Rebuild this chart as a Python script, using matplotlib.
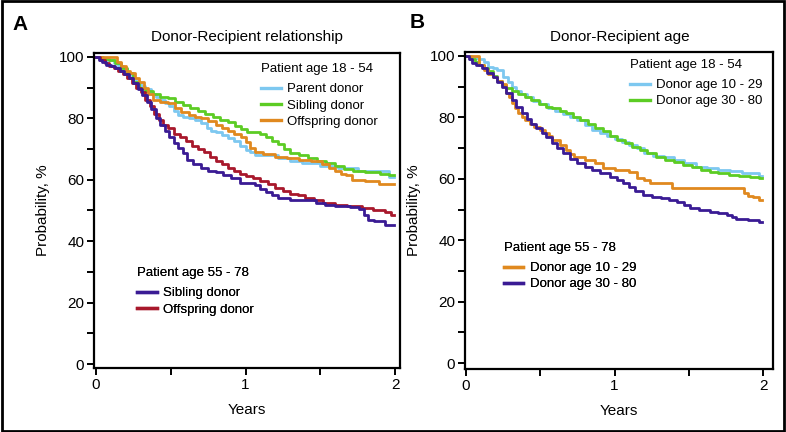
import matplotlib
matplotlib.use("Agg")
import matplotlib.pyplot as plt
from matplotlib.lines import Line2D
from matplotlib.patches import Rectangle
from matplotlib import font_manager

# ---------------- data ----------------
# Panel A: Donor-Recipient relationship (patient age 18-54)
a_parent_t = [0, 0.04, 0.08, 0.12, 0.15, 0.18, 0.21, 0.24, 0.27, 0.30, 0.33, 0.37, 0.40, 0.43, 0.46, 0.49, 0.52, 0.55, 0.58, 0.62,
              0.66, 0.70, 0.74, 0.77, 0.80, 0.84, 0.88, 0.92, 0.96, 1.00, 1.03, 1.06, 1.15, 1.22, 1.30, 1.38, 1.50, 1.62, 1.75, 1.96, 1.99]
a_parent_s = [100, 99.5, 99, 98, 97, 96, 94.5, 93, 91.5, 90.5, 89.5, 88, 87, 86, 85, 84, 82.5, 81, 80.5, 80,
              79.5, 78.5, 77, 76, 75.5, 74.5, 73.6, 72.5, 71, 69.7, 69, 68, 68, 67, 66, 65.5, 64.5, 64, 63, 61, 61]

a_sib_young_t = [0, 0.05, 0.09, 0.13, 0.17, 0.21, 0.25, 0.29, 0.33, 0.38, 0.43, 0.48, 0.53, 0.58, 0.63, 0.68, 0.73, 0.78, 0.83, 0.88,
                 0.93, 0.97, 1.01, 1.10, 1.14, 1.18, 1.22, 1.26, 1.30, 1.36, 1.42, 1.48, 1.54, 1.60, 1.66, 1.72, 1.80, 1.90, 1.96, 1.99]
a_sib_young_s = [100, 99.5, 99, 98, 96.5, 94.8, 92, 90, 89, 88, 87, 86.5, 85.5, 84.5, 83.5, 82.5, 81.5, 80.5, 79.5, 78.8,
                 77.5, 76.5, 75.5, 75, 74, 72.5, 71.5, 70, 68.7, 68, 67, 66, 65.5, 64.5, 63.5, 63, 62.5, 62, 61.5, 61.5]

a_off_young_t = [0, 0.14, 0.17, 0.20, 0.23, 0.26, 0.29, 0.32, 0.35, 0.38, 0.43, 0.48, 0.53, 0.57, 0.62, 0.66, 0.70, 0.75, 0.80, 0.84,
                 0.88, 0.92, 0.97, 1.00, 1.03, 1.06, 1.12, 1.20, 1.28, 1.36, 1.44, 1.51, 1.56, 1.60, 1.64, 1.67, 1.71, 1.80, 1.89, 1.99]
a_off_young_s = [100, 98.5, 97, 95.5, 94.8, 93, 92, 90, 88, 86, 85.5, 85, 83.5, 82, 81, 80.5, 80, 79, 78, 77,
                 76, 75, 74, 72.3, 70.5, 69, 68.5, 67.5, 67, 66.5, 66, 65, 64, 63, 62, 61.5, 60, 59.5, 58.6, 58.6]

# Panel A: patient age 55-78
a_sib_old_t = [0, 0.02, 0.04, 0.07, 0.10, 0.13, 0.16, 0.19, 0.22, 0.25, 0.28, 0.31, 0.34, 0.37, 0.40, 0.43, 0.46, 0.49, 0.52, 0.55,
               0.58, 0.61, 0.65, 0.70, 0.75, 0.80, 0.85, 0.90, 0.96, 1.01, 1.06, 1.10, 1.14, 1.18, 1.22, 1.30, 1.40, 1.47, 1.53, 1.60,
               1.70, 1.76, 1.79, 1.82, 1.86, 1.93, 1.99]
a_sib_old_s = [100, 99, 98.5, 97.5, 97, 96.5, 95.5, 94.5, 93, 91.5, 89.5, 87.5, 85.5, 83, 80, 78, 76, 74, 72, 70.5,
               68.7, 66.5, 65, 64, 63, 62.5, 61.5, 60.5, 59, 58.8, 58.3, 57, 56, 55, 54, 53.5, 53.4, 52.5, 51.8, 51.5,
               51, 50.5, 48.5, 47, 46.5, 45.3, 45.3]

a_off_old_t = [0, 0.03, 0.06, 0.09, 0.12, 0.15, 0.18, 0.21, 0.24, 0.27, 0.30, 0.33, 0.36, 0.39, 0.42, 0.45, 0.48, 0.52, 0.56, 0.60,
               0.64, 0.68, 0.72, 0.76, 0.80, 0.84, 0.88, 0.92, 0.96, 1.00, 1.05, 1.10, 1.15, 1.20, 1.25, 1.30, 1.35, 1.40, 1.46, 1.52,
               1.60, 1.68, 1.78, 1.85, 1.93, 1.97, 1.99]
a_off_old_s = [100, 99, 98, 97, 96.5, 95.5, 94.5, 93, 91.5, 90, 88.5, 86, 84, 81.5, 79.5, 78, 77, 75, 74, 72.5,
               71, 70, 69, 67.5, 66, 65, 64, 63, 62, 61.2, 60.5, 59.5, 58.5, 57.3, 56.5, 55.5, 55, 54, 53.4, 52.5,
               51.8, 51.5, 50.8, 50.2, 49.5, 48.5, 48.5]

# Panel B: Donor-Recipient age (patient age 18-54)
b_young10_t = [0, 0.04, 0.08, 0.12, 0.15, 0.18, 0.21, 0.25, 0.28, 0.31, 0.34, 0.37, 0.41, 0.45, 0.50, 0.55, 0.60, 0.65, 0.70, 0.75,
               0.80, 0.85, 0.90, 0.95, 1.00, 1.05, 1.10, 1.15, 1.20, 1.26, 1.33, 1.40, 1.47, 1.55, 1.62, 1.70, 1.78, 1.86, 1.97, 1.99]
b_young10_s = [100, 99.5, 99, 98, 96.5, 96, 95.4, 93, 91.5, 90, 88.5, 87.5, 86.5, 85.5, 84.5, 83, 82, 81, 80, 79,
               77.5, 76, 75, 74, 73, 72, 71, 70, 68.5, 67.5, 67, 66, 65, 64, 63.5, 63, 62.5, 62, 61, 61]

b_young30_t = [0, 0.03, 0.06, 0.09, 0.12, 0.15, 0.18, 0.21, 0.24, 0.27, 0.31, 0.35, 0.40, 0.44, 0.49, 0.54, 0.58, 0.63, 0.67, 0.72,
               0.77, 0.82, 0.87, 0.92, 0.97, 1.02, 1.07, 1.12, 1.17, 1.22, 1.28, 1.34, 1.40, 1.46, 1.52, 1.58, 1.64, 1.70, 1.77, 1.84,
               1.91, 1.97, 1.99]
b_young30_s = [100, 99, 98, 97, 96, 95, 93.5, 92, 90.5, 89.5, 88.5, 87.5, 86.5, 85.7, 84.5, 83.5, 83, 82, 81.4, 80,
               79, 78, 76.5, 75.5, 74, 72.6, 71.5, 70.5, 69.5, 68.4, 67, 66, 65.5, 64.5, 64, 63, 62.2, 62, 61.2, 61,
               60.6, 60.2, 60.2]

# Panel B: patient age 55-78
b_old10_t = [0, 0.09, 0.12, 0.15, 0.18, 0.21, 0.24, 0.27, 0.29, 0.31, 0.33, 0.35, 0.38, 0.40, 0.43, 0.46, 0.50, 0.53, 0.56, 0.58,
             0.63, 0.67, 0.70, 0.73, 0.80, 0.87, 0.92, 1.00, 1.10, 1.15, 1.20, 1.24, 1.39, 1.87, 1.90, 1.93, 1.97, 1.99]
b_old10_s = [100, 97, 95.4, 94, 93, 92, 91, 88, 86.5, 84.7, 83, 81.4, 80, 79, 78, 77, 76, 75, 74, 72.6,
             71, 69.4, 68, 67, 66, 65, 63.5, 63, 62.2, 60.3, 59.5, 58.6, 57, 55.4, 54.5, 54, 53, 53]

b_old30_t = [0, 0.02, 0.04, 0.07, 0.11, 0.14, 0.18, 0.21, 0.24, 0.27, 0.31, 0.34, 0.38, 0.41, 0.44, 0.47, 0.51, 0.54, 0.58, 0.61,
             0.65, 0.70, 0.75, 0.80, 0.85, 0.90, 0.97, 1.02, 1.06, 1.10, 1.14, 1.19, 1.25, 1.31, 1.37, 1.42, 1.47, 1.51, 1.57, 1.64,
             1.70, 1.76, 1.79, 1.82, 1.90, 1.97, 1.99]
b_old30_s = [100, 99, 97.7, 97, 96, 94.5, 93, 91.5, 90, 88, 85.7, 83.5, 81.4, 79.5, 78, 76.5, 75, 73.5, 71.7, 70,
             68.4, 66.5, 65, 64, 63, 62, 60.6, 59.5, 58.5, 57.3, 56, 54.7, 54, 53.7, 53, 52.4, 51.5, 50.5, 50, 49.2,
             48.8, 48.2, 47.5, 46.9, 46.5, 45.8, 45.8]

x_ticks = [0, 0.5, 1, 1.5, 2]
x_labels = ["0", "", "1", "", "2"]
y_ticks = [0, 10, 20, 30, 40, 50, 60, 70, 80, 90, 100]
y_labels = ["0", "", "20", "", "40", "", "60", "", "80", "", "100"]

titles = ["Donor-Recipient relationship", "Donor-Recipient age"]
panel_letters = ["A", "B"]

# ---------------- style ----------------
LBLUE = "#7dc8f0"
GREEN = "#5ccc24"
ORANGE = "#e0891f"
INDIGO = "#3a1b94"
RED = "#a8182c"

names = {f.name for f in font_manager.fontManager.ttflist}
base_font = ["Liberation Sans", "DejaVu Sans"]
narrow_font = ["Liberation Sans Narrow", "Liberation Sans", "DejaVu Sans"] if "Liberation Sans Narrow" in names else ["Liberation Sans", "DejaVu Sans"]
plt.rcParams["font.family"] = base_font

W, H = 786, 432
fig = plt.figure(figsize=(W / 100, H / 100), dpi=100)
fig.patch.set_facecolor("white")

def rect(l, t, r, b):
    return [l / W, 1 - b / H, (r - l) / W, (b - t) / H]

axA = fig.add_axes(rect(94, 53, 400, 368))
axB = fig.add_axes(rect(465, 52, 773, 369))

LW = 2.0

def style(ax, xlim, ylim):
    ax.set_xlim(*xlim)
    ax.set_ylim(*ylim)
    ax.set_xticks(x_ticks)
    ax.set_xticklabels(x_labels)
    ax.set_yticks(y_ticks)
    ax.set_yticklabels(y_labels)
    for s in ax.spines.values():
        s.set_linewidth(1.6)
    ax.tick_params(direction="out", length=5, width=1.4, labelsize=11, pad=2)
    ax.set_xlabel("Years", fontsize=11, family=narrow_font, labelpad=8)
    ax.set_ylabel("Probability, %", fontsize=11, family=narrow_font, labelpad=6)

# Panel A
axA.plot(a_parent_t, a_parent_s, drawstyle="steps-post", color=LBLUE, lw=LW)
axA.plot(a_sib_young_t, a_sib_young_s, drawstyle="steps-post", color=GREEN, lw=LW)
axA.plot(a_off_young_t, a_off_young_s, drawstyle="steps-post", color=ORANGE, lw=LW)
axA.plot(a_off_old_t, a_off_old_s, drawstyle="steps-post", color=RED, lw=LW)
axA.plot(a_sib_old_t, a_sib_old_s, drawstyle="steps-post", color=INDIGO, lw=LW)
style(axA, (-0.0134, 2.033), (-1.3, 101.3))

# Panel B
axB.plot(b_young10_t, b_young10_s, drawstyle="steps-post", color=LBLUE, lw=LW)
axB.plot(b_young30_t, b_young30_s, drawstyle="steps-post", color=GREEN, lw=LW)
axB.plot(b_old10_t, b_old10_s, drawstyle="steps-post", color=ORANGE, lw=LW)
axB.plot(b_old30_t, b_old30_s, drawstyle="steps-post", color=INDIGO, lw=LW)
style(axB, (-0.0067, 2.067), (-1.95, 101.3))

def legend(ax, title, labels, colors, anchor):
    handles = [Line2D([], [], color=c, lw=2.4) for c in colors]
    lg = ax.legend(handles, labels, title=title, loc="upper left", bbox_to_anchor=anchor,
                   frameon=False, fontsize=9.5, title_fontsize=9.5, handlelength=1.5,
                   handletextpad=0.5, labelspacing=0.3, alignment="left",
                   borderpad=0, borderaxespad=0)
    lg._legend_box.sep = 6
    ax.add_artist(lg)
    return lg

legend(axA, "Patient age 18 - 54", ["Parent donor", "Sibling donor", "Offspring donor"],
       [LBLUE, GREEN, ORANGE], (0.545, 0.969))
legend(axA, "Patient age 55 - 78", ["Sibling donor", "Offspring donor"],
       [INDIGO, RED], (0.14, 0.321))
legend(axB, "Patient age 18 - 54", ["Donor age 10 - 29", "Donor age 30 - 80"],
       [LBLUE, GREEN], (0.535, 0.979))
legend(axB, "Patient age 55 - 78", ["Donor age 10 - 29", "Donor age 30 - 80"],
       [ORANGE, INDIGO], (0.125, 0.402))

# Titles and panel letters
fig.text(247 / W, 1 - 37 / H, titles[0], ha="center", va="center", fontsize=11)
fig.text(620 / W, 1 - 37 / H, titles[1], ha="center", va="center", fontsize=11)
fig.text(12 / W, 1 - 25 / H, panel_letters[0], ha="left", va="center", fontsize=15, fontweight="bold")
fig.text(410 / W, 1 - 22 / H, panel_letters[1], ha="left", va="center", fontsize=15, fontweight="bold")

# outer frame
fig.add_artist(Rectangle((0.002, 0.003), 0.996, 0.994, transform=fig.transFigure,
                         fill=False, edgecolor="black", lw=2))

fig.savefig("out.png", dpi=100)
